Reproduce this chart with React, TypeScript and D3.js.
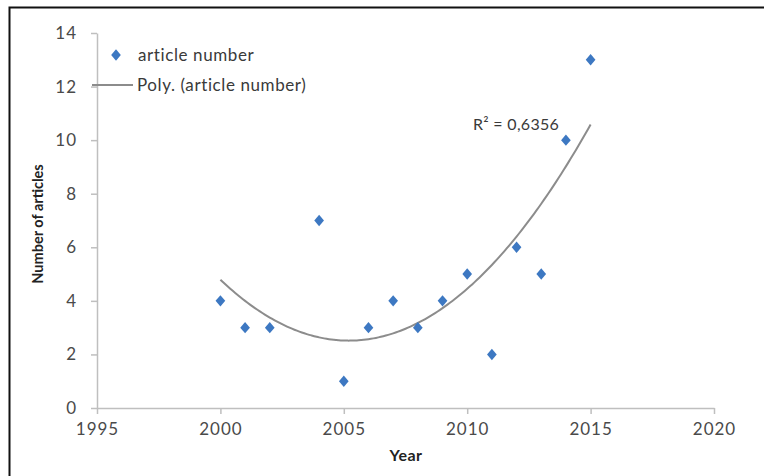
import React, { useEffect, useRef } from 'react'
import * as d3 from 'd3'

const years = [2000, 2001, 2002, 2004, 2005, 2006, 2007, 2008, 2009, 2010, 2011, 2012, 2013, 2014, 2015]
const articles = [4, 3, 3, 7, 1, 3, 4, 3, 4, 5, 2, 6, 5, 10, 13]
const xTicks = [1995, 2000, 2005, 2010, 2015, 2020]
const yTicks = [0, 2, 4, 6, 8, 10, 12, 14]
const seriesName = 'article number'
const trendName = 'Poly. (article number)'
const r2Label = 'R² = 0,6356'

// least squares 2nd order fit, like excel's "Poly." trendline
function polyFit(xs: number[], ys: number[]) {
  const x0 = xs[0]
  const s = [0, 0, 0, 0, 0]
  const t = [0, 0, 0]
  xs.forEach((xv, i) => {
    const u = xv - x0
    for (let k = 0; k < 5; k++) s[k] += Math.pow(u, k)
    for (let k = 0; k < 3; k++) t[k] += Math.pow(u, k) * ys[i]
  })
  const m = [
    [s[0], s[1], s[2], t[0]],
    [s[1], s[2], s[3], t[1]],
    [s[2], s[3], s[4], t[2]],
  ]
  for (let c = 0; c < 3; c++) {
    for (let r = c + 1; r < 3; r++) {
      const f = m[r][c] / m[c][c]
      for (let k = c; k < 4; k++) m[r][k] -= f * m[c][k]
    }
  }
  const coef = [0, 0, 0]
  for (let r = 2; r >= 0; r--) {
    let v = m[r][3]
    for (let k = r + 1; k < 3; k++) v -= m[r][k] * coef[k]
    coef[r] = v / m[r][r]
  }
  return (xv: number) => {
    const u = xv - x0
    return coef[0] + coef[1] * u + coef[2] * u * u
  }
}

function App() {
  const canvas = useRef<SVGSVGElement>(null)

  useEffect(() => {
    const svg = d3.select(canvas.current)
    svg.selectAll('*').remove()

    const font = 'Lato, "Open Sans", sans-serif'
    const margin = { top: 33, left: 97, right: 50, bottom: 68 }
    const width = 764
    const height = 476

    const x = d3.scaleLinear().domain([1995, 2020]).range([margin.left, 714])
    const y = d3.scaleLinear().domain([0, 14]).range([408, margin.top])

    svg.append('rect').attr('width', width).attr('height', height).attr('fill', '#fff')

    // border (only top and left visible in the crop)
    svg
      .append('path')
      .attr('d', `M9.5,${height}V7.5H${width}`)
      .attr('fill', 'none')
      .attr('stroke', '#111')
      .attr('stroke-width', 2)

    // axes
    const xAxis = svg
      .append('g')
      .attr('transform', `translate(0, ${y(0)})`)
      .call(d3.axisBottom(x).tickValues(xTicks).tickFormat(d3.format('d')).tickSize(6).tickSizeOuter(0))
    const yAxis = svg
      .append('g')
      .attr('transform', `translate(${x(1995)}, 0)`)
      .call(d3.axisLeft(y).tickValues(yTicks).tickSize(6).tickSizeOuter(0))

    ;[xAxis, yAxis].forEach((g) => {
      g.select('.domain').attr('stroke', '#bfbfbf').attr('stroke-width', 1.5)
      g.selectAll('.tick line').attr('stroke', '#bfbfbf').attr('stroke-width', 1.5)
      g.selectAll('.tick text')
        .attr('fill', '#4a4a4a')
        .style('font-family', font)
        .style('font-size', '17px')
        .style('letter-spacing', '1px')
    })
    xAxis.selectAll('.tick text').attr('dy', '1em').attr('y', 10)
    yAxis.selectAll('.tick text').attr('x', -20)

    // axis titles
    svg
      .append('text')
      .attr('x', 406)
      .attr('y', 461)
      .attr('text-anchor', 'middle')
      .attr('fill', '#222')
      .style('font-family', font)
      .style('font-size', '16px')
      .style('font-weight', 'bold')
      .style('letter-spacing', '0.5px')
      .text('Year')
    svg
      .append('text')
      .attr('transform', 'translate(43, 224) rotate(-90)')
      .attr('text-anchor', 'middle')
      .attr('fill', '#222')
      .style('font-family', '"Liberation Sans Narrow", ' + font)
      .style('font-size', '14.5px')
      .style('font-weight', 'bold')
      .text('Number of articles')

    // trendline
    const fit = polyFit(years, articles)
    const xs = d3.range(years[0], years[years.length - 1] + 0.001, 0.1)
    svg
      .append('path')
      .datum(xs)
      .attr('fill', 'none')
      .attr('stroke', '#8c8c8c')
      .attr('stroke-width', 2)
      .attr(
        'd',
        d3
          .line<number>()
          .x((d) => x(d))
          .y((d) => y(fit(d)))
          .curve(d3.curveMonotoneX),
      )

    // markers
    const diamond = d3.symbol().type(d3.symbolDiamond).size(52)
    svg
      .selectAll('.pt')
      .data(years)
      .enter()
      .append('path')
      .attr('d', diamond)
      .attr('transform', (d, i) => `translate(${x(d)}, ${y(articles[i])}) scale(1.25, 0.85)`)
      .attr('fill', '#3d78c2')

    // legend
    const legend = svg.append('g').style('font-family', font).style('font-size', '17px').attr('fill', '#3a3a3a')
    legend
      .append('path')
      .attr('d', diamond)
      .attr('transform', 'translate(116, 55) scale(1.25, 0.85)')
      .attr('fill', '#3d78c2')
    legend.append('text').attr('x', 138).attr('y', 55).attr('dy', '0.35em').style('letter-spacing', '0.6px').text(seriesName)
    legend
      .append('line')
      .attr('x1', 92)
      .attr('x2', 133)
      .attr('y1', 85)
      .attr('y2', 85)
      .attr('stroke', '#8c8c8c')
      .attr('stroke-width', 2)
    legend.append('text').attr('x', 137).attr('y', 85).attr('dy', '0.35em').style('letter-spacing', '0.6px').text(trendName)

    svg
      .append('text')
      .attr('x', 473)
      .attr('y', 124)
      .attr('dy', '0.35em')
      .attr('fill', '#3a3a3a')
      .style('font-family', font)
      .style('font-size', '16px')
      .style('letter-spacing', '0.3px')
      .text(r2Label)
  }, [])

  return (
    <svg
      ref={canvas}
      width={764}
      height={476}
      style={{ position: 'absolute', left: 0, top: 0, display: 'block' }}
    />
  )
}

export default App
